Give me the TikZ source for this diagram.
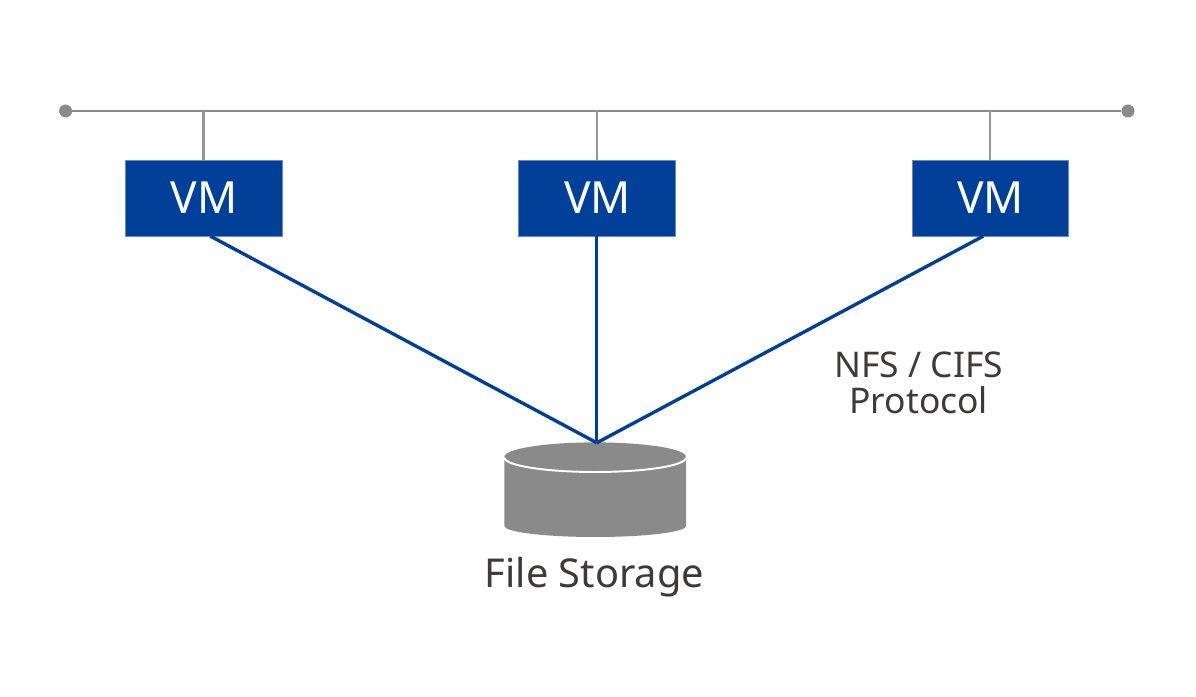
\documentclass[tikz,border=0pt]{standalone}
\usepackage{fontspec}
\setmainfont{Noto Sans}
\usetikzlibrary{positioning}
\definecolor{vmblue}{HTML}{004098}
\definecolor{busgray}{HTML}{8A8A8A}
\definecolor{labelgray}{HTML}{3E3A39}
\tikzset{
  vmbox/.style={rectangle,fill=vmblue,draw=vmblue!60,line width=0.2pt,text=white,minimum width=3.915cm,minimum height=1.9cm,font=\fontsize{31.5}{34}\selectfont},
  busline/.style={draw=busgray,line width=1.5pt},
  dropline/.style={draw=busgray!90,line width=1.6pt},
  protoline/.style={draw=vmblue,line width=2.4pt},
  busdot/.style={circle,fill=busgray,inner sep=0pt,minimum size=0.325cm},
  caption/.style={text=labelgray,align=center}
}
\begin{document}
\begin{tikzpicture}
\useasboundingbox (0,0) rectangle (29.9,17.4);
\fill[white] (0,0) rectangle (29.9,17.4);

% bus
\node[busdot] (busl) at (1.64,14.625) {};
\node[busdot] (busr) at (28.2,14.625) {};
\draw[busline] (busl) -- (busr);

% virtual machines
\node[vmbox] (vma) at (5.09,12.45) {\hspace{1pt}VM};
\node[vmbox] (vmb) at (14.92,12.45) {\hspace{1pt}VM};
\node[vmbox] (vmc) at (24.75,12.45) {\hspace{1pt}VM};
\foreach \n in {vma,vmb,vmc}
  \draw[dropline] (\n.north) -- (\n.north |- busl);

% storage
\fill[busgray] (12.61,5.96) -- (12.61,4.25) arc[start angle=180,end angle=360,x radius=2.27,y radius=0.275] -- (17.15,5.96) -- cycle;
\fill[busgray] (14.88,5.98) ellipse[x radius=2.27,y radius=0.36];
\draw[white,line width=1.4pt] (12.61,5.96) arc[start angle=180,end angle=360,x radius=2.27,y radius=0.36];
\coordinate (store) at (14.92,6.33);

\draw[protoline] (vma.-80) -- (store);
\draw[protoline] (vmb.south) -- (store);
\draw[protoline] (vmc.-100) -- (store);

\node[caption,font=\fontsize{28.3}{30}\selectfont] (storelabel) at (14.86,2.97) {File Storage};
\node[caption,font=\fontsize{25.2}{25.6}\selectfont] (protolabel) at (22.97,7.83) {NFS / CIFS\\Protocol};
\end{tikzpicture}
\end{document}
